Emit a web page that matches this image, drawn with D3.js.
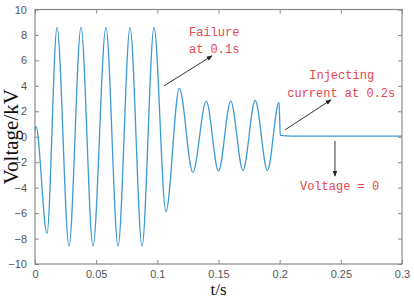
<!DOCTYPE html>
<html>
<head>
<meta charset="utf-8">
<script src="https://cdn.jsdelivr.net/npm/d3@7/dist/d3.min.js"></script>
<style>
  html, body { margin: 0; padding: 0; background: #fff; }
  svg { display: block; }
</style>
</head>
<body>
<div id="chart"></div>
<script>
// time (s) and voltage (kV) at the turning points
var time = [0, 0.0008, 0.0098, 0.018, 0.0278, 0.0376, 0.0474, 0.058, 0.0679, 0.0777,
  0.0875, 0.0973, 0.107, 0.118, 0.129, 0.140, 0.150, 0.160, 0.170, 0.180,
  0.190, 0.1995, 0.2005, 0.21, 0.3];
var volt = [0.5, 0.8, -7.6, 8.6, -8.6, 8.6, -8.6, 8.6, -8.6, 8.6,
  -8.6, 8.6, -5.9, 3.8, -2.8, 2.8, -2.7, 2.8, -2.65, 2.85,
  -2.65, 2.7, 0.1, 0.05, 0.05];

var xTicks = [0, 0.05, 0.1, 0.15, 0.2, 0.25, 0.3];
var yTicks = [-10, -8, -6, -4, -2, 0, 2, 4, 6, 8, 10];

// annotation text, arrows (data coordinates)
var notes = [
  {lines: ['Failure', 'at 0.1s'], t: [0.1259, 0.1259], v: [7.94, 6.62]},
  {lines: ['Injecting', 'current at 0.2s'], t: [0.2242, 0.2062], v: [4.53, 3.16]},
  {lines: ['Voltage = 0'], t: [0.2166], v: [-4.19]}
];
var arrows = [
  {from: [0.1055, 4.0], to: [0.1447, 6.36]},
  {from: [0.2044, 0.54], to: [0.242, 2.9]},
  {from: [0.2452, -0.33], to: [0.2452, -3.09]}
];

var width = 414, height = 298;
var margin = {top: 9.5, right: 12, bottom: 34, left: 35};
var w = width - margin.left - margin.right,
    h = height - margin.top - margin.bottom;

var svg = d3.select('#chart').append('svg')
  .attr('width', width)
  .attr('height', height);

var defs = svg.append('defs');
defs.append('marker')
  .attr('id', 'head')
  .attr('viewBox', '0 0 10 10')
  .attr('refX', 9).attr('refY', 5)
  .attr('markerWidth', 6).attr('markerHeight', 6)
  .attr('markerUnits', 'userSpaceOnUse')
  .attr('orient', 'auto')
  .append('path')
  .attr('d', 'M0,1 L10,5 L0,9 Z')
  .attr('fill', '#222');

var g = svg.append('g')
  .attr('transform', 'translate(' + margin.left + ',' + margin.top + ')');

var x = d3.scaleLinear().domain([0, 0.3]).range([0, w]);
var y = d3.scaleLinear().domain([-10, 10]).range([h, 0]);

var axisColor = '#8a8a8a';
var fmt = function(d) { return d3.format('~g')(d); };

function styleAxis(sel, showText) {
  sel.select('.domain').remove();
  sel.selectAll('.tick line').attr('stroke', axisColor).attr('stroke-width', 1);
  if (!showText) {
    sel.selectAll('.tick text').remove();
    return;
  }
  sel.selectAll('.tick text')
    .attr('fill', '#555')
    .style('font-family', 'Arial, "Liberation Sans", sans-serif')
    .style('font-size', '11px');
}

g.append('g')
  .attr('transform', 'translate(0,' + h + ')')
  .call(d3.axisBottom(x).tickValues(xTicks).tickFormat(fmt).tickSizeInner(-4).tickSizeOuter(0).tickPadding(6))
  .call(styleAxis, true);

g.append('g')
  .call(d3.axisTop(x).tickValues(xTicks).tickSizeInner(-4).tickSizeOuter(0))
  .call(styleAxis, false);

g.append('g')
  .call(d3.axisLeft(y).tickValues(yTicks).tickFormat(fmt).tickSizeInner(-4).tickSizeOuter(0).tickPadding(8))
  .call(styleAxis, true);

g.append('g')
  .attr('transform', 'translate(' + w + ',0)')
  .call(d3.axisRight(y).tickValues(yTicks).tickSizeInner(-4).tickSizeOuter(0))
  .call(styleAxis, false);

g.append('rect')
  .attr('width', w).attr('height', h)
  .attr('fill', 'none')
  .attr('stroke', axisColor)
  .attr('stroke-width', 1.2);

var line = d3.line()
  .x(function(d, i) { return x(time[i]); })
  .y(function(d) { return y(d); })
  .curve(d3.curveMonotoneX);

g.append('path')
  .datum(volt)
  .attr('d', line)
  .attr('fill', 'none')
  .attr('stroke', '#3d9ad6')
  .attr('stroke-width', 1.3);

// arrows
g.selectAll('.arrow')
  .data(arrows)
  .enter().append('line')
  .attr('class', 'arrow')
  .attr('x1', function(d) { return x(d.from[0]); })
  .attr('y1', function(d) { return y(d.from[1]); })
  .attr('x2', function(d) { return x(d.to[0]); })
  .attr('y2', function(d) { return y(d.to[1]); })
  .attr('stroke', '#333')
  .attr('stroke-width', 1)
  .attr('marker-end', 'url(#head)');

// red notes
notes.forEach(function(n) {
  n.lines.forEach(function(s, i) {
    g.append('text')
      .attr('x', x(n.t[i]))
      .attr('y', y(n.v[i]))
      .attr('fill', '#e4474d')
      .style('font-family', '"Liberation Mono", "DejaVu Sans Mono", monospace')
      .style('font-size', '12px')
      .text(s);
  });
});

// axis titles
svg.append('text')
  .attr('x', margin.left + x(0.15))
  .attr('y', 295)
  .attr('text-anchor', 'middle')
  .style('font-family', '"Liberation Serif", "Times New Roman", serif')
  .style('font-size', '17px')
  .attr('fill', '#111')
  .text('t/s');

svg.append('text')
  .attr('transform', 'translate(18,' + (margin.top + y(0)) + ') rotate(-90)')
  .attr('text-anchor', 'middle')
  .style('font-family', '"Liberation Serif", "Times New Roman", serif')
  .style('font-size', '21px')
  .attr('fill', '#111')
  .text('Voltage/kV');
</script>
</body>
</html>
